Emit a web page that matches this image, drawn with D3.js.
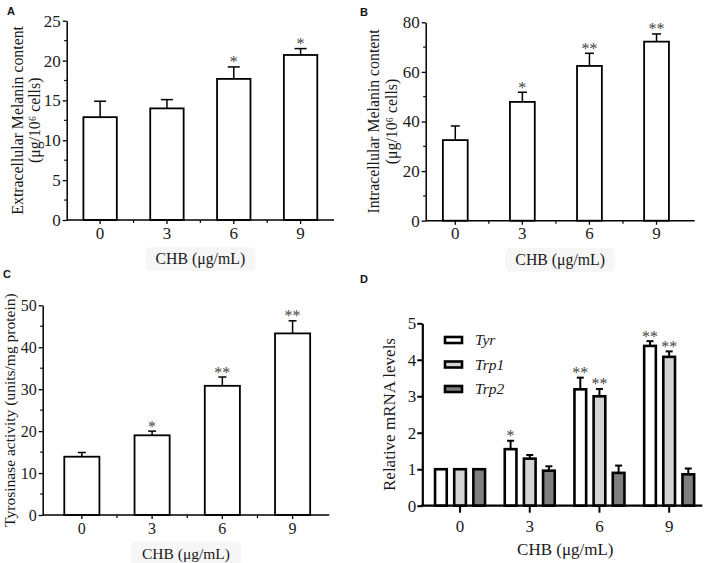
<!DOCTYPE html>
<html><head><meta charset="utf-8">
<script src="https://cdn.jsdelivr.net/npm/d3@7"></script>
<style>
html,body{margin:0;padding:0;background:#fff;}
svg{display:block;}
text{font-family:"Liberation Serif","Times New Roman",serif;fill:#1a1a1a;}
.letter{font-family:"Liberation Sans",Arial,sans-serif;font-weight:bold;fill:#111;}
</style>
</head><body>
<svg id="chart" width="708" height="563"></svg>
<script>
// ---------- DATA ----------
const doses = ["0", "3", "6", "9"];
const xTitle = "CHB (μg/mL)";

const extraMean = [12.9, 14.0, 17.7, 20.7];
const extraErr  = [2.0, 1.1, 1.5, 0.8];
const extraSig  = ["", "", "*", "*"];
const extraTicks = [0, 5, 10, 15, 20, 25];

const intraMean = [32.5, 47.9, 62.4, 72.2];
const intraErr  = [5.7, 3.9, 5.1, 3.1];
const intraSig  = ["", "*", "**", "**"];
const intraTicks = [0, 20, 40, 60, 80];

const tyrActMean = [13.9, 19.0, 30.8, 43.3];
const tyrActErr  = [1.0, 1.0, 2.1, 3.0];
const tyrActSig  = ["", "*", "**", "**"];
const tyrActTicks = [0, 10, 20, 30, 40, 50];

const genes = ["Tyr", "Trp1", "Trp2"];
const mrnaTyr     = [1.0, 1.55, 3.19, 4.38];
const mrnaTyrErr  = [0, 0.23, 0.32, 0.13];
const mrnaTyrSig  = ["", "*", "**", "**"];
const mrnaTrp1    = [1.0, 1.29, 3.0, 4.08];
const mrnaTrp1Err = [0, 0.10, 0.20, 0.15];
const mrnaTrp1Sig = ["", "", "**", "**"];
const mrnaTrp2    = [1.0, 0.96, 0.90, 0.86];
const mrnaTrp2Err = [0, 0.12, 0.20, 0.16];
const mrnaTrp2Sig = ["", "", "", ""];
const mrnaTicks = [0, 1, 2, 3, 4, 5];

// ---------- DRAW ----------
const svg = d3.select("#chart");
const SERIF = '"Liberation Serif","Times New Roman",serif';

function simplePanel(o) {
  const g = svg.append("g");
  const x = d3.scaleBand().domain(doses).range(o.xr)
    .paddingInner(o.pi).paddingOuter(o.po).align(o.align);
  const y = d3.scaleLinear().domain([0, o.ticks[o.ticks.length - 1]]).range(o.yr);
  const y0 = y(0);
  const rows = o.mean.map((m, i) => ({dose: doses[i], m: m, e: o.err[i], s: o.sig[i]}));
  const cxf = d => x(d.dose) + x.bandwidth() / 2;

  // label box (faint)
  const cx = (o.xr[0] + o.xr[1]) / 2;
  g.append("rect").attr("x", cx - 55).attr("y", y0 + 27).attr("width", 110).attr("height", 24)
    .attr("rx", 5).attr("fill", "#f6f6f6");

  // error bars
  g.selectAll("line.ev").data(rows).join("line").attr("class", "ev")
    .attr("x1", cxf).attr("x2", cxf)
    .attr("y1", d => y(d.m)).attr("y2", d => y(d.m + d.e))
    .attr("stroke", "#000").attr("stroke-width", 1.5);
  g.selectAll("line.ec").data(rows).join("line").attr("class", "ec")
    .attr("x1", d => cxf(d) - o.cap).attr("x2", d => cxf(d) + o.cap)
    .attr("y1", d => y(d.m + d.e)).attr("y2", d => y(d.m + d.e))
    .attr("stroke", "#000").attr("stroke-width", 1.5);
  // bars
  g.selectAll("rect.bar").data(rows).join("rect").attr("class", "bar")
    .attr("x", d => x(d.dose)).attr("width", x.bandwidth())
    .attr("y", d => y(d.m)).attr("height", d => y0 - y(d.m))
    .attr("fill", "#fff").attr("stroke", "#000").attr("stroke-width", 1.8);
  // significance
  g.selectAll("text.sig").data(rows).join("text").attr("class", "sig")
    .attr("x", cxf).attr("y", d => y(d.m + d.e) + 0.5)
    .attr("text-anchor", "middle").attr("font-size", 16).style("fill", "#444")
    .text(d => d.s);

  // y axis
  const ya = d3.axisLeft(y).tickValues(o.ticks).tickFormat(d3.format("d"))
    .tickSize(4).tickSizeOuter(0).tickPadding(2);
  const yg = g.append("g").attr("transform", `translate(${o.xr[0]},0)`).call(ya);
  yg.selectAll("text").attr("font-size", o.tfs).style("fill", "#1a1a1a").style("font-family", SERIF);
  yg.select(".domain").attr("stroke", "#000").attr("stroke-width", 1.5);
  yg.selectAll(".tick line").attr("stroke", "#000").attr("stroke-width", 1.3);
  const minors = d3.pairs(o.ticks).map(p => (p[0] + p[1]) / 2);
  g.selectAll("line.ymin").data(minors).join("line").attr("class", "ymin")
    .attr("x1", o.xr[0] - 2.5).attr("x2", o.xr[0]).attr("y1", d => y(d)).attr("y2", d => y(d))
    .attr("stroke", "#000").attr("stroke-width", 1.2);

  // x axis
  g.append("line").attr("x1", o.xr[0]).attr("x2", o.xr[1]).attr("y1", y0).attr("y2", y0)
    .attr("stroke", "#000").attr("stroke-width", 1.5);
  g.selectAll("line.xt").data(doses).join("line").attr("class", "xt")
    .attr("x1", d => x(d) + x.bandwidth() / 2).attr("x2", d => x(d) + x.bandwidth() / 2)
    .attr("y1", y0).attr("y2", y0 + 4).attr("stroke", "#000").attr("stroke-width", 1.3);
  const mids = d3.pairs(doses).map(p => (x(p[0]) + x(p[1])) / 2 + x.bandwidth() / 2);
  g.selectAll("line.xm").data(mids).join("line").attr("class", "xm")
    .attr("x1", d => d).attr("x2", d => d).attr("y1", y0).attr("y2", y0 + 3)
    .attr("stroke", "#000").attr("stroke-width", 1.2);
  g.selectAll("text.xl").data(doses).join("text").attr("class", "xl")
    .attr("x", d => x(d) + x.bandwidth() / 2).attr("y", y0 + 18.5)
    .attr("text-anchor", "middle").attr("font-size", o.tfs).text(d => d);
  g.append("text").attr("x", cx).attr("y", y0 + 44).attr("text-anchor", "middle")
    .attr("font-size", o.fs).text(xTitle);

  // y title
  const ym = (o.yr[0] + o.yr[1]) / 2;
  o.ytitle.forEach((t, k) => {
    g.append("text").attr("transform", `translate(${o.ytx[k]},${ym}) rotate(-90)`)
      .attr("text-anchor", "middle").attr("font-size", o.fs).text(t);
  });
}

simplePanel({
  mean: extraMean, err: extraErr, sig: extraSig, ticks: extraTicks,
  xr: [66.7, 334], yr: [220, 20.7], pi: 0.5, po: 0.25, align: 0.5, cap: 6, fs: 15.8, tfs: 17,
  ytitle: ["Extracellular Melanin content", "(μg/10⁶ cells)"], ytx: [22.5, 39.5]
});
simplePanel({
  mean: intraMean, err: intraErr, sig: intraSig, ticks: intraTicks,
  xr: [425.7, 694.7], yr: [220.7, 22.3], pi: 0.63, po: 0.32, align: 0.4, cap: 4.5, fs: 15.8, tfs: 17,
  ytitle: ["Intracellular Melanin content", "(μg/10⁶ cells)"], ytx: [378.5, 396.5]
});
simplePanel({
  mean: tyrActMean, err: tyrActErr, sig: tyrActSig, ticks: tyrActTicks,
  xr: [42.7, 329.3], yr: [515, 305.3], pi: 0.5, po: 0.29, align: 0.53, cap: 4, fs: 15.5, tfs: 16,
  ytitle: ["Tyrosinase activity (units/mg protein)"], ytx: [14.5]
});

// ---------- Panel D ----------
(function () {
  const g = svg.append("g");
  const xr = [422.3, 702.3], yr = [505.7, 323.3];
  const x0 = d3.scaleBand().domain(doses).range(xr).paddingInner(0.283).paddingOuter(0.15).align(0.61);
  const x1 = d3.scaleBand().domain(genes).range([0, x0.bandwidth()]).paddingInner(0.39).paddingOuter(0);
  const y = d3.scaleLinear().domain([0, 5]).range(yr);
  const y0 = y(0);
  const fills = ["#ffffff", "#d4d4d4", "#7f7f7f"];
  const color = d3.scaleOrdinal().domain(genes).range(fills);
  const series = [
    {gene: "Tyr", v: mrnaTyr, e: mrnaTyrErr, s: mrnaTyrSig},
    {gene: "Trp1", v: mrnaTrp1, e: mrnaTrp1Err, s: mrnaTrp1Sig},
    {gene: "Trp2", v: mrnaTrp2, e: mrnaTrp2Err, s: mrnaTrp2Sig}
  ];
  const rows = [];
  series.forEach(sr => sr.v.forEach((v, i) => rows.push({gene: sr.gene, dose: doses[i], m: v, e: sr.e[i], s: sr.s[i]})));
  const cxf = d => x0(d.dose) + x1(d.gene) + x1.bandwidth() / 2;
  const withErr = rows.filter(d => d.e > 0);

  g.selectAll("line.ev").data(withErr).join("line").attr("class", "ev")
    .attr("x1", cxf).attr("x2", cxf)
    .attr("y1", d => y(d.m)).attr("y2", d => y(d.m + d.e))
    .attr("stroke", "#000").attr("stroke-width", 2);
  g.selectAll("line.ec").data(withErr).join("line").attr("class", "ec")
    .attr("x1", d => cxf(d) - 3.5).attr("x2", d => cxf(d) + 3.5)
    .attr("y1", d => y(d.m + d.e)).attr("y2", d => y(d.m + d.e))
    .attr("stroke", "#000").attr("stroke-width", 2);
  g.selectAll("rect.bar").data(rows).join("rect").attr("class", "bar")
    .attr("x", d => x0(d.dose) + x1(d.gene)).attr("width", x1.bandwidth())
    .attr("y", d => y(d.m)).attr("height", d => y0 - y(d.m))
    .attr("fill", d => color(d.gene)).attr("stroke", "#000").attr("stroke-width", 2.6);
  g.selectAll("text.sig").data(rows).join("text").attr("class", "sig")
    .attr("x", cxf).attr("y", d => y(d.m + d.e) + 0.5)
    .attr("text-anchor", "middle").attr("font-size", 16).style("fill", "#444")
    .text(d => d.s);

  // axes
  const ya = d3.axisLeft(y).tickValues(mrnaTicks).tickFormat(d3.format("d"))
    .tickSize(5).tickSizeOuter(0).tickPadding(1);
  const yg = g.append("g").attr("transform", `translate(${xr[0]},0)`).call(ya);
  yg.selectAll("text").attr("font-size", 17).style("fill", "#1a1a1a").style("font-family", SERIF);
  yg.select(".domain").attr("stroke", "#000").attr("stroke-width", 2.2);
  yg.selectAll(".tick line").attr("stroke", "#000").attr("stroke-width", 2);
  g.append("line").attr("x1", xr[0] - 1).attr("x2", xr[1]).attr("y1", y0).attr("y2", y0)
    .attr("stroke", "#000").attr("stroke-width", 2.2);
  g.selectAll("line.xt").data(doses).join("line").attr("class", "xt")
    .attr("x1", d => x0(d) + x0.bandwidth() / 2).attr("x2", d => x0(d) + x0.bandwidth() / 2)
    .attr("y1", y0).attr("y2", y0 + 7).attr("stroke", "#000").attr("stroke-width", 2);
  g.selectAll("text.xl").data(doses).join("text").attr("class", "xl")
    .attr("x", d => x0(d) + x0.bandwidth() / 2).attr("y", y0 + 26)
    .attr("text-anchor", "middle").attr("font-size", 17).text(d => d);
  g.append("text").attr("x", (xr[0] + xr[1]) / 2 + 3).attr("y", 555).attr("text-anchor", "middle")
    .attr("font-size", 17).text(xTitle);
  g.append("text").attr("transform", `translate(395,${(yr[0] + yr[1]) / 2}) rotate(-90)`)
    .attr("text-anchor", "middle").attr("font-size", 17).text("Relative mRNA levels");

  // legend
  const lg = g.append("g");
  const ly = d3.scalePoint().domain(genes).range([340, 389]);
  lg.selectAll("rect").data(genes).join("rect")
    .attr("x", 445).attr("y", d => ly(d) - 3).attr("width", 17).attr("height", 6)
    .attr("fill", d => color(d)).attr("stroke", "#000").attr("stroke-width", 2.6);
  lg.selectAll("text").data(genes).join("text")
    .attr("x", 475).attr("y", d => ly(d) + 5).attr("font-size", 15.5).attr("font-style", "italic")
    .text(d => d);
})();

// panel letters
const letters = [["A", 7, 15], ["B", 360, 16], ["C", 3, 278], ["D", 360, 283]];
svg.selectAll("text.letter").data(letters).join("text").attr("class", "letter")
  .attr("x", d => d[1]).attr("y", d => d[2]).attr("font-size", 11).text(d => d[0]);
</script>
</body></html>
